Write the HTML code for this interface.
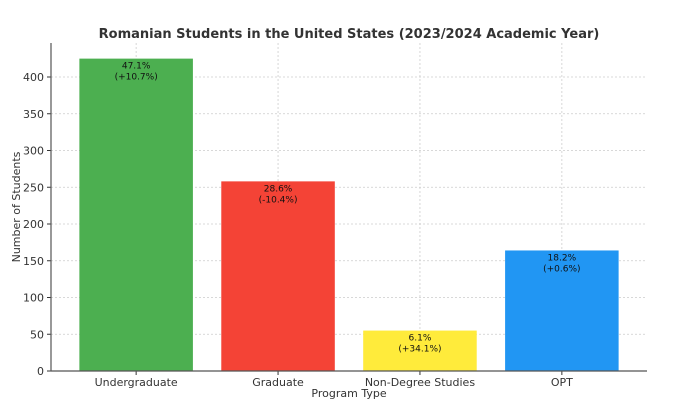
<!DOCTYPE html>
<html><head><meta charset="utf-8"><style>
body{margin:0;background:#fff;}
svg{display:block;font-family:"DejaVu Sans","Liberation Sans",sans-serif;}
</style></head><body>
<svg id="chart" width="674" height="408" viewBox="0 0 674 408">
<text x="349" y="38" text-anchor="middle" font-size="13" font-weight="bold" fill="#333">Romanian Students in the United States (2023/2024 Academic Year)</text>
<g id="grid"></g><g id="bars"></g><g id="axes"></g>
<text x="349" y="397" text-anchor="middle" font-size="11" fill="#333">Program Type</text>
<text transform="translate(20,207) rotate(-90)" text-anchor="middle" font-size="11" fill="#333">Number of Students</text>
</svg>
<script>
const categories=["Undergraduate","Graduate","Non-Degree Studies","OPT"];
const values=[425,258,55,164];
const shares=["47.1%","28.6%","6.1%","18.2%"];
const changes=["(+10.7%)","(-10.4%)","(+34.1%)","(+0.6%)"];
const colors=["#4caf50","#f44336","#ffeb3b","#2196f3"];
const yTicks=[0,50,100,150,200,250,300,350,400];
const NS="http://www.w3.org/2000/svg";
const L=51,R=647,T=43,B=371;
const y=v=>B-v*(371-77)/400;
const step=(R-L)/4.2;
const xc=i=>L+step*(0.6+i);
const bw=step*0.8;
function mk(tag,attrs,parent,text){const e=document.createElementNS(NS,tag);for(const k in attrs)e.setAttribute(k,attrs[k]);if(text!==undefined)e.textContent=text;parent.appendChild(e);return e;}
const grid=document.getElementById('grid'),bars=document.getElementById('bars'),axes=document.getElementById('axes');
yTicks.forEach(t=>{
 const g=mk('line',{x1:L,x2:R,y1:y(t),y2:y(t),stroke:'#ccc','stroke-dasharray':'2,2','stroke-width':0.8},grid);
 
 
 mk('line',{x1:L-4,x2:L,y1:y(t),y2:y(t),stroke:'#333'},axes);
 const lb=mk('text',{x:L-7,y:y(t)+4,'text-anchor':'end','font-size':11,fill:'#333'},axes,String(t));
 
 
});
categories.forEach((c,i)=>{
 const g=mk('line',{x1:xc(i),x2:xc(i),y1:T,y2:B,stroke:'#ccc','stroke-dasharray':'2,2','stroke-width':0.8},grid);
 
 
 const r=mk('rect',{x:xc(i)-bw/2,y:y(values[i]),width:bw,height:B-y(values[i]),fill:colors[i]},bars);
 
 
 const t1=mk('text',{x:xc(i),y:y(values[i])+10,'text-anchor':'middle','font-size':9,fill:'#111'},bars,shares[i]);
 
 
 const t2=mk('text',{x:xc(i),y:y(values[i])+21,'text-anchor':'middle','font-size':9,fill:'#111'},bars,changes[i]);
 
 
 mk('line',{x1:xc(i),x2:xc(i),y1:B,y2:B+4,stroke:'#333'},axes);
 const xl=mk('text',{x:xc(i),y:B+15,'text-anchor':'middle','font-size':11,fill:'#333'},axes,c);
 
 
});
const ya=mk('line',{x1:L,x2:L,y1:T,y2:B,stroke:'#555','stroke-width':1.2},axes);


const xa=mk('line',{x1:L,x2:R,y1:B,y2:B,stroke:'#555','stroke-width':1.2},axes);


</script>
</body></html>
